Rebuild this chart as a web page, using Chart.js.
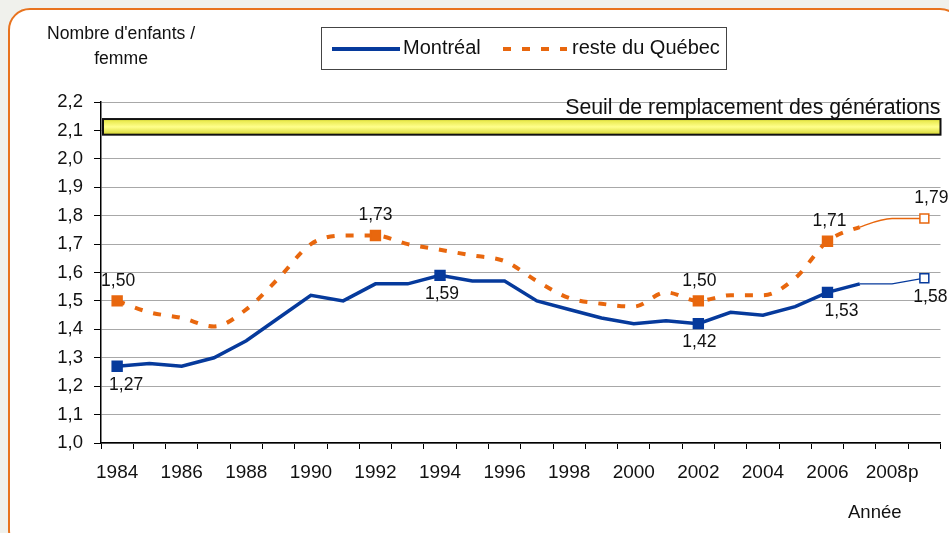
<!DOCTYPE html>
<html>
<head>
<meta charset="utf-8">
<script src="https://cdn.jsdelivr.net/npm/chart.js@4/dist/chart.umd.min.js"></script>
<style>
  html, body { margin: 0; padding: 0; background: #f0f1ec; }
  body { width: 949px; height: 533px; position: relative; overflow: hidden; font-family: 'Liberation Sans', Arial, sans-serif; }
  .frame { position: absolute; left: 8px; top: 8px; width: 950px; height: 540px; border: 2px solid #e8731e; border-radius: 22px; background: #fff; }
  .wrap { position: absolute; left: 0; top: 0; width: 949px; height: 533px; }
  .ytitle { position: absolute; left: 47px; top: 21px; font-size: 17.6px; line-height: 25px; text-align: center; color: #111; }
  .xtitle { position: absolute; left: 848px; top: 501px; font-size: 18.5px; color: #111; }
  .legend { position: absolute; left: 321px; top: 27px; width: 404px; height: 41px; border: 1px solid #444; background: #fff; font-size: 20px; color: #111; }
  .legend span { position: absolute; top: 8px; }
  .legend .ln { position: absolute; top: 19px; height: 4px; }
</style>
</head>
<body>
<div class="frame"></div>
<div class="wrap"><canvas id="chart" width="949" height="533"></canvas></div>
<div class="ytitle">Nombre d'enfants /<br>femme</div>
<div class="xtitle">Année</div>
<div class="legend">
  <div class="ln" style="left:10px;width:68px;background:#063a9c;height:3.5px"></div>
  <span style="left:81px">Montréal</span>
  <div class="ln" style="left:181px;width:64px;background:repeating-linear-gradient(to right,#e8670e 0 8px,transparent 8px 19px)"></div>
  <span style="left:250px">reste du Québec</span>
</div>
<script>
const xLabels = ['1984','','1986','','1988','','1990','','1992','','1994','','1996','','1998','','2000','','2002','','2004','','2006','','2008p',''];
const montreal = [1.27,1.28,1.27,1.30,1.36,1.44,1.52,1.50,1.56,1.56,1.59,1.57,1.57,1.50,1.47,1.44,1.42,1.43,1.42,1.46,1.45,1.48,1.53,1.56,1.56,1.58];
const resteQc = [1.50,1.46,1.44,1.41,1.47,1.58,1.70,1.73,1.73,1.70,1.68,1.66,1.64,1.57,1.51,1.49,1.48,1.53,1.50,1.52,1.52,1.58,1.71,1.76,1.79,1.79];
const montrealMarks = [0, 10, 18, 22];
const resteMarks = [0, 8, 18, 22];
const projIdx = 25;        // 2008p, projection (hollow marker)
const thinFrom = 23;       // segments after 2007 are drawn thin
const seuilBand = [2.085, 2.14];
const seuilLabel = 'Seuil de remplacement des générations';

const BLUE = '#063a9c', ORANGE = '#e8670e';
const FONT = "'Liberation Sans', Arial, sans-serif";
const fmt = v => v.toFixed(2).replace('.', ',');

const markRadius = marks => ctx => (marks.includes(ctx.dataIndex) ? 7 : ctx.dataIndex === projIdx ? 6.3 : 0);
const markFill = color => ctx => (ctx.dataIndex === projIdx ? '#fff' : color);

const seuilPlugin = {
  id: 'seuil',
  beforeDatasetsDraw(chart) {
    const { ctx, chartArea: a, scales: { y } } = chart;
    const top = y.getPixelForValue(seuilBand[1]), bot = y.getPixelForValue(seuilBand[0]);
    const g = ctx.createLinearGradient(0, top, 0, bot);
    g.addColorStop(0, '#e4e43c');
    g.addColorStop(0.5, '#ffff8c');
    g.addColorStop(1, '#d6d630');
    ctx.save();
    ctx.fillStyle = g;
    ctx.fillRect(a.left + 2, top, a.right - a.left - 2, bot - top);
    ctx.lineWidth = 2;
    ctx.strokeStyle = '#111';
    ctx.strokeRect(a.left + 2, top, a.right - a.left - 2, bot - top);
    ctx.fillStyle = '#111';
    ctx.font = '21.3px ' + FONT;
    ctx.textAlign = 'right';
    ctx.textBaseline = 'middle';
    ctx.fillText(seuilLabel, a.right, y.getPixelForValue(2.2) + 6);
    ctx.restore();
  }
};

const labelPlugin = {
  id: 'ptlabels',
  afterDatasetsDraw(chart) {
    const { ctx } = chart;
    const specs = [
      { ds: 0, idx: [...montrealMarks, projIdx], dy: 19, dx: [9, 2, 1, 14, 6] },
      { ds: 1, idx: [...resteMarks, projIdx], dy: -20, dx: [1, 0, 1, 2, 7] }
    ];
    ctx.save();
    ctx.font = '17.5px ' + FONT;
    ctx.fillStyle = '#111';
    ctx.textAlign = 'center';
    ctx.textBaseline = 'middle';
    specs.forEach(s => {
      const meta = chart.getDatasetMeta(s.ds);
      const data = chart.data.datasets[s.ds].data;
      s.idx.forEach((i, k) => {
        const p = meta.data[i];
        ctx.fillText(fmt(data[i]), p.x + s.dx[k], p.y + s.dy);
      });
    });
    ctx.restore();
  }
};

new Chart(document.getElementById('chart'), {
  type: 'line',
  data: {
    labels: xLabels,
    datasets: [
      {
        label: 'Montréal', data: montreal, borderColor: BLUE, borderWidth: 3.5, tension: 0,
        pointStyle: 'rect', pointRadius: markRadius(montrealMarks), pointBackgroundColor: markFill(BLUE),
        pointBorderColor: BLUE, pointBorderWidth: 1.5,
        segment: { borderWidth: c => (c.p0DataIndex >= thinFrom ? 1.3 : undefined) }
      },
      {
        label: 'reste du Québec', data: resteQc, borderColor: ORANGE, borderWidth: 4,
        cubicInterpolationMode: 'monotone',
        borderDash: [8, 11], pointStyle: 'rect', pointRadius: markRadius(resteMarks),
        pointBackgroundColor: markFill(ORANGE), pointBorderColor: ORANGE, pointBorderWidth: 1.5,
        segment: {
          borderWidth: c => (c.p0DataIndex >= thinFrom ? 1.3 : undefined),
          borderDash: c => (c.p0DataIndex >= thinFrom ? [] : undefined)
        }
      }
    ]
  },
  options: {
    responsive: false,
    animation: false,
    layout: { padding: { top: 102, right: 8, left: 0, bottom: 0 } },
    plugins: { legend: { display: false }, tooltip: { enabled: false } },
    scales: {
      x: {
        offset: true,
        afterFit: s => { s.height = 90; },
        grid: { offset: true, drawOnChartArea: false, color: '#000', tickLength: 6 },
        border: { color: '#000', width: 1.5 },
        ticks: { autoSkip: false, maxRotation: 0, padding: 12, color: '#111', font: { family: FONT, size: 19 } }
      },
      y: {
        min: 1.0, max: 2.2,
        afterFit: s => { s.width = 101; },
        grid: { color: '#a8a8a8', tickColor: '#000', tickLength: 7 },
        border: { color: '#000', width: 1.5 },
        ticks: { stepSize: 0.1, padding: 11, color: '#111', font: { family: FONT, size: 18.5 },
                 callback: v => v.toFixed(1).replace('.', ',') }
      }
    }
  },
  plugins: [seuilPlugin, labelPlugin]
});
</script>
</body>
</html>
